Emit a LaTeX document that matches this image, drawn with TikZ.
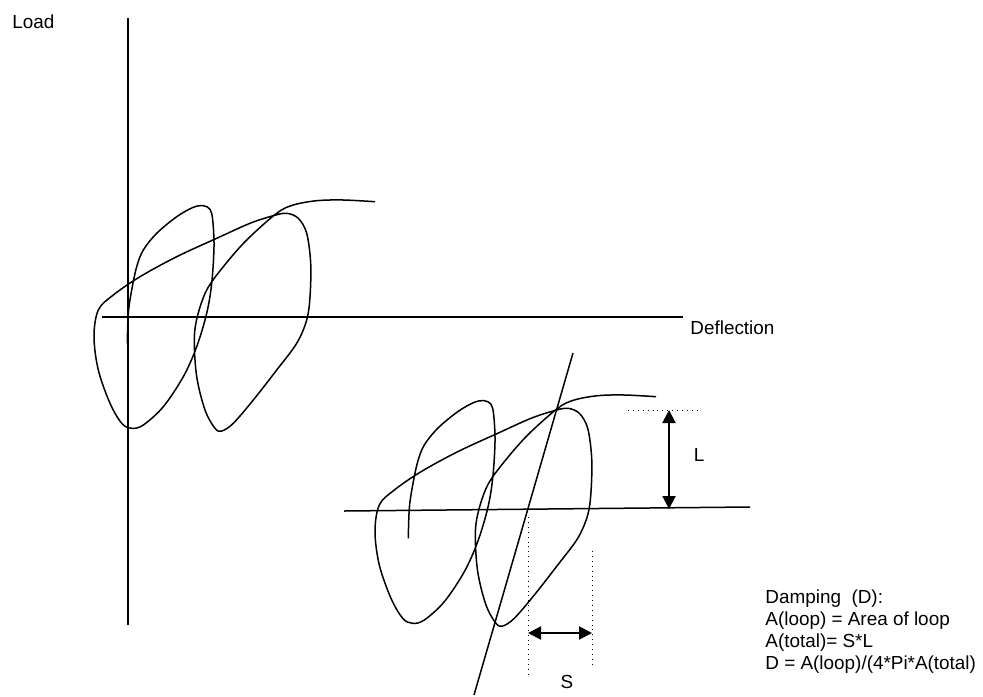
\documentclass[tikz,border=0pt]{standalone}
\usepackage{fontspec}
\setmainfont{Liberation Sans}
\usetikzlibrary{arrows.meta}
\tikzset{
  axis/.style={line width=0.75pt},
  loopcurve/.style={line width=0.75pt, line join=round},
  dimarrow/.style={line width=1pt, {Triangle[length=6.5pt,width=6.5pt]}-{Triangle[length=6.5pt,width=6.5pt]}},
  guide/.style={line width=0.45pt, dotted},
  lbl/.style={font=\fontsize{9.45}{11}\selectfont, inner sep=0pt}
}
\newcommand{\hystcurve}{%
  plot[smooth, tension=0.55] coordinates {
  (127.3,343.3) (128.3,313.3) (131.7,290) (136.7,266.7) (143.3,250) (156.7,233.3)
  (176.7,216.7) (193.3,207.3) (203.3,205.7) (210,209.3) (212.7,220) (214,246.7)
  (211.7,283.3) (206.7,313.3) (196.7,346.7) (183.3,376.7) (163.3,406.7) (143.3,425)
  (131.7,428.3) (121.7,423.3) (110,403.3) (98.3,370) (94,336.7) (98.3,310)
  (113.3,295) (140,276.7) (176.7,256.7) (216.7,238.3) (250,223.3) (273.3,215.7)
  (286.7,213.3) (298.3,218.3) (306.7,233.3) (310.7,263.3) (310,296.7) (306.7,320)
  (296.7,343.3) (276.7,370) (253.3,400) (233.3,423.3) (221.7,431) (215,428.3)
  (205,410) (196.7,376.7) (194.3,340) (197.3,316.7) (206.7,290) (223.3,266.7)
  (246.7,240) (276.7,213.3) (293.3,205) (316.7,200.7) (343.3,200) (375,201.7)}}
\begin{document}
\begin{tikzpicture}[x=0.5pt,y=-0.5pt]
\useasboundingbox (0,0) rectangle (983,696);
% ---- top-left diagram ----
\coordinate (vtop) at (128,18);
\coordinate (vbot) at (128,625);
\coordinate (hleft) at (102,317);
\coordinate (hright) at (683,317);
\draw[axis] (vtop) -- (vbot);
\draw[axis] (hleft) -- (hright);
\draw[loopcurve] \hystcurve;
\node[lbl, anchor=base west] (load) at (12,28) {Load};
\node[lbl, anchor=base west] (defl) at (690,334) {Deflection};
% ---- bottom-right diagram ----
\coordinate (bleft) at (344,511);
\coordinate (bright) at (750,507);
\draw[axis] (bleft) -- (bright);
\begin{scope}[shift={(281,195)}]
\draw[loopcurve] \hystcurve;
\end{scope}
\coordinate (stop) at (573,353);
\coordinate (sbot) at (474,695);
\draw[axis] (stop) -- (sbot);
% L dimension
\coordinate (lgl) at (628,410);
\coordinate (lgr) at (701,410);
\draw[guide] (lgl) -- (lgr);
\coordinate (la) at (669,410);
\coordinate (lb) at (669,509);
\draw[dimarrow] (la) -- (lb);
\node[lbl] (L) at (699,455) {L};
% S dimension
\coordinate (g1t) at (528,517);
\coordinate (g1b) at (528,678);
\coordinate (g2t) at (592,551);
\coordinate (g2b) at (592,667);
\draw[guide] (g1t) -- (g1b);
\draw[guide] (g2t) -- (g2b);
\coordinate (sa) at (528,633);
\coordinate (sb) at (592,633);
\draw[dimarrow] (sa) -- (sb);
\node[lbl] (S) at (567,682) {S};
% text block
\node[lbl, anchor=base west] (t1) at (765,603.3) {Damping\ \ (D):};
\node[lbl, anchor=base west] (t2) at (765,625.7) {A(loop) = Area of loop};
\node[lbl, anchor=base west] (t3) at (765,647.3) {A(total)= S*L};
\node[lbl, anchor=base west] (t4) at (765,669.3) {D = A(loop)/(4*Pi*A(total)};
\end{tikzpicture}
\end{document}
